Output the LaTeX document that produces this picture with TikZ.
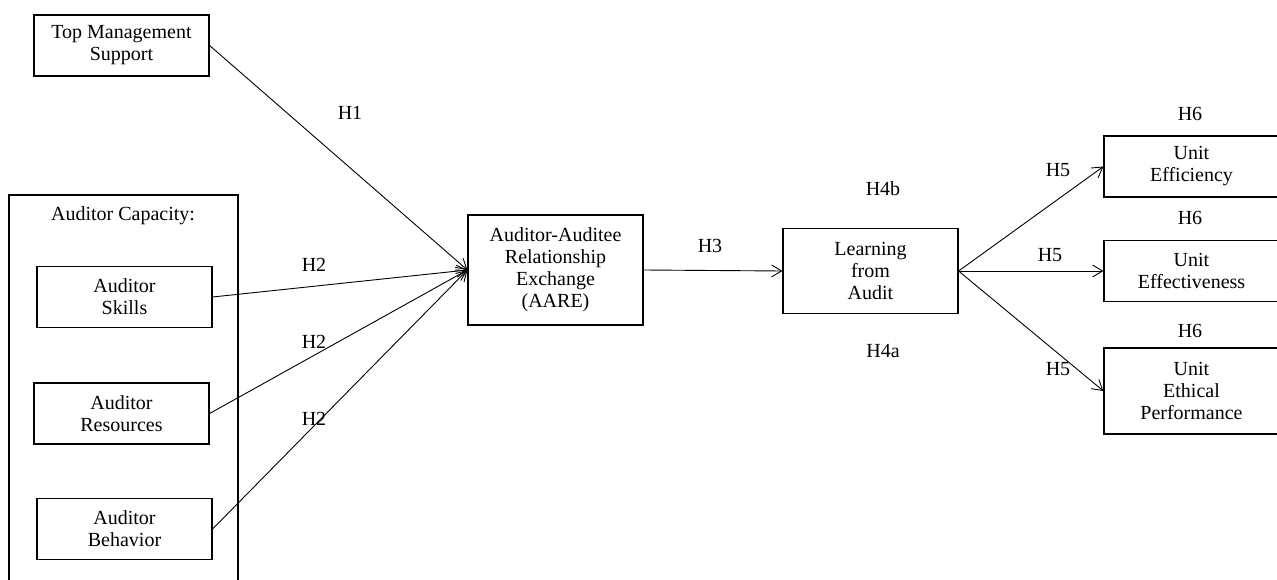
\documentclass[tikz,border=0pt]{standalone}
\usepackage{fontspec}
\setmainfont{Liberation Serif}
\usetikzlibrary{arrows.meta}

\begin{document}
\begin{tikzpicture}[x=1pt,y=-1pt]
        \tikzset{box/.style={draw,line width=1.2pt,minimum width=175pt,minimum height=61pt,
            align=center,inner sep=0pt,font=\fontsize{20}{22}\selectfont},
            hyp/.style={font=\fontsize{20}{22}\selectfont},
            link/.style={-{Straight Barb[length=10pt,width=12pt]},line width=0.9pt}}

        \clip (0,0) rectangle (1277,580);

        % auditor capacity frame
        \draw[line width=1.2pt] (9,195) rectangle (238,610);
        \node[hyp] (cap) at (123,216) {Auditor Capacity:};

        \node[box] (tms) at (121.5,45.5) {Top Management\\Support};
        \node[box] (skills) at (124.5,297) {Auditor\\Skills};
        \node[box] (resources) at (121.5,413.5) {Auditor\\Resources};
        \node[box] (behavior) at (124.5,529) {Auditor\\Behavior};

        \node[box,minimum height=110pt] (aare) at (555.5,270) {Auditor-Auditee\\Relationship\\Exchange\\(AARE)};
        \node[box,minimum height=85pt] (learn) at (870.5,271) {Learning\\from\\Audit};

        \node[box] (eff) at (1191.5,166.5) {Unit\\Efficiency};
        \node[box] (effect) at (1191.5,271) {Unit\\Effectiveness};
        \node[box,minimum height=86pt] (ethic) at (1191.5,391) {Unit\\Ethical\\Performance};

        \foreach \src in {tms, skills, resources, behavior}
            \draw[link] (\src.east) -- (aare.west);
        \draw[link] (aare.east) -- (learn.west);
        \foreach \dst in {eff, effect, ethic}
            \draw[link] (learn.east) -- (\dst.west);

        \node[hyp] (h1) at (350,113) {H1};
        \node[hyp] (h2a) at (314,265) {H2};
        \node[hyp] (h2b) at (314,342) {H2};
        \node[hyp] (h2c) at (314,419) {H2};
        \node[hyp] (h3) at (710,246) {H3};
        \node[hyp] (h4b) at (883,189) {H4b};
        \node[hyp] (h4a) at (883,351) {H4a};
        \node[hyp] (h5a) at (1058,170) {H5};
        \node[hyp] (h5b) at (1050,255) {H5};
        \node[hyp] (h5c) at (1058,369) {H5};
        \node[hyp] (h6a) at (1190,114) {H6};
        \node[hyp] (h6b) at (1190,218) {H6};
        \node[hyp] (h6c) at (1190,331) {H6};

    \end{tikzpicture}
\end{document}
